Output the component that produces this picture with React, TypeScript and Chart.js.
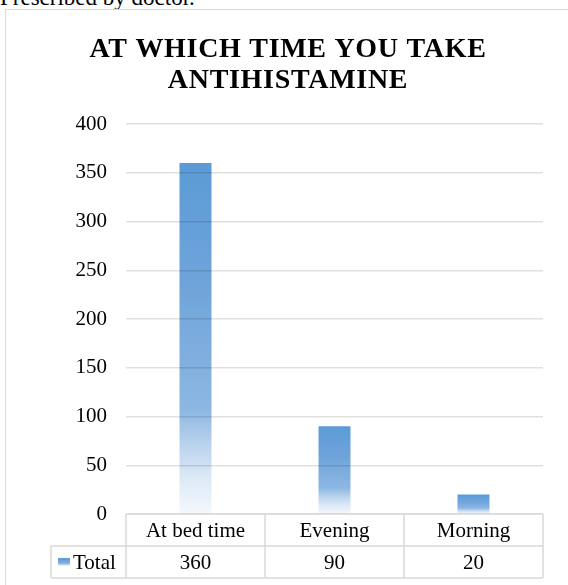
import React, { useEffect, useRef } from "react";
import { Chart, registerables } from "chart.js";

Chart.register(...registerables);

const pageText = "Prescribed by doctor.";
const titleLines = ["AT WHICH TIME YOU TAKE", "ANTIHISTAMINE"];
const categories = ["At bed time", "Evening", "Morning"];
const seriesName = "Total";
const totals = [360, 90, 20];
const yTicks = [0, 50, 100, 150, 200, 250, 300, 350, 400];

const SERIF = '"Liberation Serif", "Times New Roman", serif';
const GRID = "#d9d9d9";

function makeGradient(c: CanvasRenderingContext2D, top: number, base: number) {
  const g = c.createLinearGradient(0, top, 0, base);
  g.addColorStop(0, "#5b9bd5");
  g.addColorStop(0.35, "#6fa4da");
  g.addColorStop(0.7, "#8cb7e2");
  g.addColorStop(0.8, "#b9d2ed");
  g.addColorStop(0.9, "#dde9f6");
  g.addColorStop(1, "#f4f8fc");
  return g;
}

const titlePlugin = {
  id: "customTitle",
  afterDraw(chart: any) {
    const c = chart.ctx as any;
    c.save();
    c.font = `bold 28px ${SERIF}`;
    c.fillStyle = "#000";
    c.textAlign = "center";
    c.textBaseline = "alphabetic";
    c.letterSpacing = "0.7px";
    const cx = chart.width / 2 + 4;
    c.fillText(titleLines[0], cx, 57);
    c.fillText(titleLines[1], cx, 88);
    c.restore();
  },
};

const tablePlugin = {
  id: "dataTable",
  afterDraw(chart: any) {
    const c = chart.ctx as CanvasRenderingContext2D;
    const area = chart.chartArea;
    const n = categories.length;
    const colW = (area.right - area.left) / n;
    const top = area.bottom;
    const rowH = 32;
    const legendLeft = area.left - 75;
    c.save();
    c.strokeStyle = GRID;
    c.lineWidth = 1.5;
    c.beginPath();
    c.moveTo(area.left, top);
    c.lineTo(area.right, top);
    c.moveTo(legendLeft, top + rowH);
    c.lineTo(area.right, top + rowH);
    c.moveTo(legendLeft, top + 2 * rowH);
    c.lineTo(area.right, top + 2 * rowH);
    for (let i = 0; i <= n; i++) {
      const x = area.left + i * colW;
      c.moveTo(x, top);
      c.lineTo(x, top + 2 * rowH);
    }
    c.moveTo(legendLeft, top + rowH);
    c.lineTo(legendLeft, top + 2 * rowH);
    c.stroke();

    c.font = `21px ${SERIF}`;
    c.fillStyle = "#000";
    c.textAlign = "center";
    c.textBaseline = "middle";
    const xs = chart.scales.x;
    for (let i = 0; i < n; i++) {
      const cx = xs.getPixelForValue(i);
      c.fillText(categories[i], cx, top + rowH / 2 + 1);
      c.fillText(String(totals[i]), cx, top + rowH * 1.5 + 1);
    }
    const my = top + rowH * 1.5;
    c.fillStyle = makeGradient(c, my - 4, my + 4);
    c.fillRect(legendLeft + 7, my - 4, 12, 8);
    c.fillStyle = "#000";
    c.textAlign = "left";
    c.fillText(seriesName, legendLeft + 22, my + 1);
    c.restore();
  },
};

export default function App() {
  const ref = useRef<HTMLCanvasElement | null>(null);
  useEffect(() => {
    if (!ref.current) return;
    const chart = new Chart(ref.current, {
      type: "bar",
      data: {
        labels: categories,
        datasets: [
          {
            label: seriesName,
            data: totals,
            backgroundColor: (ctx: any) => {
              const ch = ctx.chart;
              if (!ch.chartArea || ctx.type !== "data") return "#5b9bd5";
              const y = ch.scales.y;
              const t = y.getPixelForValue(ctx.raw);
              const b = y.getPixelForValue(0);
              return makeGradient(ch.ctx, t, b);
            },
            borderWidth: 0,
            categoryPercentage: 1,
            barPercentage: 0.23,
          },
        ],
      },
      options: {
        responsive: false,
        animation: false,
        layout: { padding: { left: 8, right: 25, top: 124, bottom: 71 } },
        plugins: {
          legend: { display: false },
          title: { display: false },
          tooltip: { enabled: false },
        },
        scales: {
          x: { display: false },
          y: {
            min: 0,
            max: 400,
            afterBuildTicks: (axis: any) => {
              axis.ticks = yTicks.map((v) => ({ value: v }));
            },
            afterFit: (axis: any) => {
              axis.width = 118;
            },
            border: { display: false },
            grid: { color: "rgba(0,0,0,0.12)", lineWidth: 1.5, drawTicks: false, z: 1 },
            ticks: {
              padding: 19,
              color: "#000",
              font: { family: SERIF, size: 21 },
            },
          },
        },
      },
      plugins: [titlePlugin, tablePlugin],
    });
    return () => chart.destroy();
  }, []);

  return (
    <div
      style={{
        position: "fixed",
        left: 0,
        top: 0,
        width: 568,
        height: 585,
        overflow: "hidden",
        background: "#fff",
      }}
    >
      <div
        style={{
          position: "absolute",
          left: 0,
          top: -15,
          font: `23px ${SERIF}`,
          color: "#000",
          whiteSpace: "nowrap",
        }}
      >
        {pageText}
      </div>
      <div
        style={{
          position: "absolute",
          left: 5,
          top: 9,
          width: 620,
          height: 620,
          border: "1.5px solid #d9d9d9",
          boxSizing: "border-box",
        }}
      />
      <canvas
        ref={ref}
        width={568}
        height={585}
        style={{ position: "absolute", left: 0, top: 0 }}
      />
    </div>
  );
}
